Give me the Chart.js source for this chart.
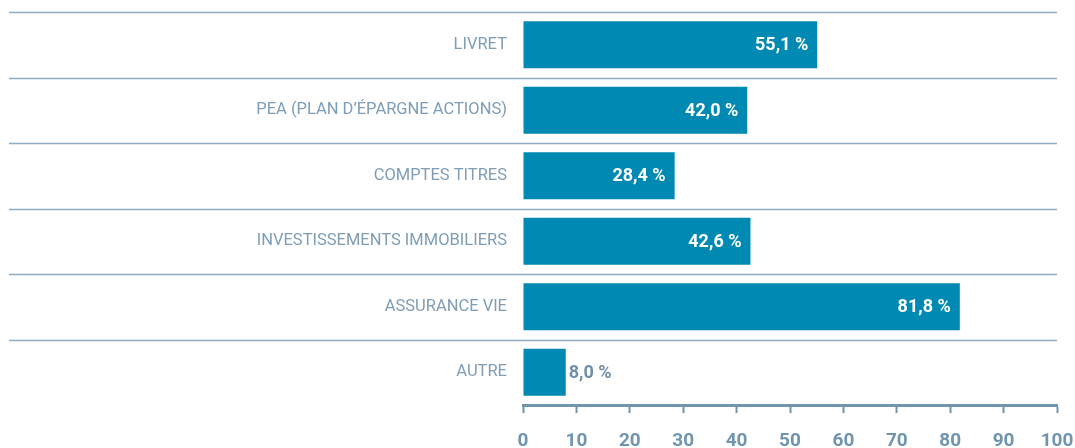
<!DOCTYPE html>
<html lang="fr">
<head>
<meta charset="utf-8">
<script src="https://cdn.jsdelivr.net/npm/chart.js@4.4.1/dist/chart.umd.min.js"></script>
<style>
  html, body { margin: 0; padding: 0; background: #fff; }
  #wrap { width: 1075px; height: 448px; }
</style>
</head>
<body>
<div id="wrap"><canvas id="chart" width="1075" height="448"></canvas></div>
<script>
const categories = [
  'LIVRET',
  'PEA (PLAN D\u2019ÉPARGNE ACTIONS)',
  'COMPTES TITRES',
  'INVESTISSEMENTS IMMOBILIERS',
  'ASSURANCE VIE',
  'AUTRE'
]
const shares = [55.1, 42.0, 28.4, 42.6, 81.8, 8.0]
const xTicks = [0, 10, 20, 30, 40, 50, 60, 70, 80, 90, 100]

const BAR = '#0089b2'
const LABEL = '#7f9db5'
const AXIS = '#7095b0'
const RULE = '#91abc0'
const FONT = 'Roboto, "DejaVu Sans", sans-serif'

const fmt = (v) => v.toFixed(1).replace('.', ',') + ' %'

// thin rules between the rows, running under the labels too
const rowRules = {
  id: 'rowRules',
  beforeDatasetsDraw(chart) {
    const { ctx, chartArea } = chart
    const y = chart.scales.y
    const n = categories.length
    const edges = [chartArea.top]
    for (let i = 0; i < n - 1; i++) {
      edges.push((y.getPixelForValue(i) + y.getPixelForValue(i + 1)) / 2)
    }
    ctx.save()
    ctx.strokeStyle = RULE
    ctx.lineWidth = 1.3
    edges.forEach((e) => {
      ctx.beginPath()
      ctx.moveTo(9, Math.round(e) + 0.5)
      ctx.lineTo(chartArea.right, Math.round(e) + 0.5)
      ctx.stroke()
    })
    ctx.restore()
  }
}

// percentage at the end of each bar
const valueLabels = {
  id: 'valueLabels',
  afterDatasetsDraw(chart) {
    const { ctx } = chart
    const meta = chart.getDatasetMeta(0)
    ctx.save()
    ctx.font = 'bold 18px ' + FONT
    ctx.textBaseline = 'middle'
    meta.data.forEach((bar, i) => {
      const text = fmt(shares[i])
      const w = ctx.measureText(text).width
      const barW = bar.x - bar.base
      if (barW > w + 18) {
        ctx.fillStyle = '#ffffff'
        ctx.textAlign = 'right'
        ctx.fillText(text, bar.x - 9, bar.y + 1)
      } else {
        ctx.fillStyle = '#6f8fa9'
        ctx.textAlign = 'left'
        ctx.fillText(text, bar.x + 3, bar.y + 1)
      }
    })
    ctx.restore()
  }
}

new Chart(document.getElementById('chart'), {
  type: 'bar',
  data: {
    labels: categories,
    datasets: [{
      data: shares,
      backgroundColor: BAR,
      borderWidth: 0,
      barPercentage: 0.72,
      categoryPercentage: 1
    }]
  },
  plugins: [rowRules, valueLabels],
  options: {
    indexAxis: 'y',
    responsive: false,
    animation: false,
    layout: { padding: { top: 12, right: 18, bottom: 0, left: 0 } },
    plugins: {
      legend: { display: false },
      tooltip: { enabled: false }
    },
    scales: {
      x: {
        min: 0,
        max: 100,
        afterFit: (scale) => {
          scale.height = 43
          scale.paddingLeft = 0
          scale.paddingRight = 0
        },
        afterBuildTicks: (scale) => { scale.ticks = xTicks.map((v) => ({ value: v })) },
        border: { display: true, color: AXIS, width: 3 },
        grid: {
          drawOnChartArea: false,
          drawTicks: true,
          tickLength: 8,
          tickWidth: 2,
          tickColor: AXIS
        },
        ticks: {
          color: AXIS,
          padding: 17,
          maxRotation: 0,
          font: { family: FONT, size: 19, weight: 'bold' }
        }
      },
      y: {
        afterFit: (scale) => {
          scale.width = 523
          scale.paddingTop = 0
          scale.paddingBottom = 0
        },
        border: { display: false },
        grid: { display: false, drawTicks: false },
        ticks: {
          color: LABEL,
          padding: 16,
          font: { family: FONT, size: 16.5 }
        }
      }
    }
  }
})
</script>
</body>
</html>
